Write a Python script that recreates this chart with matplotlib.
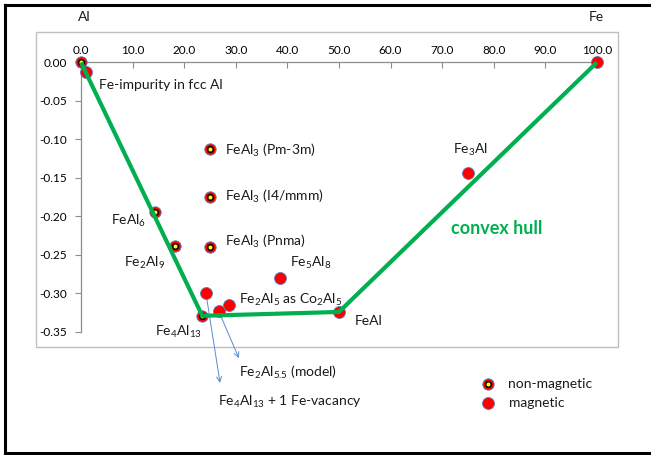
import matplotlib
matplotlib.use("Agg")
import matplotlib.pyplot as plt
from matplotlib.patches import Rectangle
from matplotlib.lines import Line2D

plt.rcParams['font.family'] = ['Lato', 'DejaVu Sans']
plt.rcParams['mathtext.fontset'] = 'custom'
plt.rcParams['mathtext.rm'] = 'Lato'
plt.rcParams['mathtext.it'] = 'Lato:italic'
plt.rcParams['mathtext.bf'] = 'Lato:bold'

# Formation energies (eV/atom) vs. Fe content (at.%)
nonmag_names = ["Al", "FeAl$_6$", "Fe$_2$Al$_9$", "FeAl$_3$ (Pm-3m)",
                "FeAl$_3$ (I4/mmm)", "FeAl$_3$ (Pnma)", "Fe$_4$Al$_{13}$"]
nonmag_x = [0.0, 14.3, 18.2, 25.0, 25.0, 25.0, 23.5]
nonmag_y = [0.0, -0.194, -0.238, -0.112, -0.175, -0.240, -0.329]

mag_names = ["Fe-impurity in fcc Al", "Fe$_4$Al$_{13}$ + 1 Fe-vacancy",
             "Fe$_2$Al$_{5.5}$ (model)", "Fe$_2$Al$_5$ as Co$_2$Al$_5$",
             "Fe$_5$Al$_8$", "FeAl", "Fe$_3$Al", "Fe"]
mag_x = [1.0, 24.2, 26.7, 28.6, 38.5, 50.0, 75.0, 100.0]
mag_y = [-0.012, -0.299, -0.323, -0.315, -0.280, -0.324, -0.143, 0.0]

hull_x = [0.0, 23.5, 50.0, 100.0]
hull_y = [0.0, -0.329, -0.324, 0.0]

x_ticks = [0, 10, 20, 30, 40, 50, 60, 70, 80, 90, 100]
y_ticks = [0.0, -0.05, -0.10, -0.15, -0.20, -0.25, -0.30, -0.35]

W, H = 651, 455
fig = plt.figure(figsize=(W / 100, H / 100), dpi=100)

def fx(px):
    return px / W

def fy(py):
    return 1 - py / H

ax = fig.add_axes([fx(36), fy(347), fx(618) - fx(36), fy(32) - fy(347)])
ax.set_xlim(-8.73, 104.1)
ax.set_ylim(-0.3695, 0.0396)

axis_grey = '#8C8C8C'
for s in ('bottom', 'right'):
    ax.spines[s].set_visible(False)
ax.spines['left'].set_position(('data', 0))
ax.spines['top'].set_position(('data', 0))
ax.spines['left'].set_bounds(-0.35, 0)
ax.spines['top'].set_bounds(0, 100)
for s in ('left', 'top'):
    ax.spines[s].set_color(axis_grey)
    ax.spines[s].set_linewidth(0.9)

ax.xaxis.tick_top()
ax.set_xticks(x_ticks)
ax.set_xticklabels([f"{v:.1f}" for v in x_ticks])
ax.set_yticks(y_ticks)
ax.set_yticklabels([f"{v:.2f}" for v in y_ticks])
ax.tick_params(axis='x', direction='in', length=4, color=axis_grey, labelsize=8.5, pad=5)
ax.tick_params(axis='y', direction='out', length=4, color=axis_grey, labelsize=8.5, pad=6)

# plot-area frame
ax.add_patch(Rectangle((0, 0), 1, 1, transform=ax.transAxes, fill=False,
                       ec='#BFBFBF', lw=1.0, clip_on=False))

edge = '#5B7FC0'

def nonmag_marker(x, y, transform=None, z=4):
    kw = dict(clip_on=False, linestyle='none')
    if transform is not None:
        kw['transform'] = transform
    ax.plot(x, y, 'o', ms=8.2, mfc='#FF0000', mec=edge, mew=0.6, zorder=z, **kw)
    ax.plot(x, y, 'o', ms=5.2, mfc='black', mec='black', mew=0, zorder=z + 0.1, **kw)
    ax.plot(x, y, 'o', ms=2.9, mfc='#FFFF00', mec='#FFFF00', mew=0, zorder=z + 0.2, **kw)

def mag_marker(x, y, transform=None, z=4):
    kw = dict(clip_on=False, linestyle='none')
    if transform is not None:
        kw['transform'] = transform
    ax.plot(x, y, 'o', ms=8.6, mfc='#FF0000', mec=edge, mew=0.6, zorder=z, **kw)

mag_marker(mag_x, mag_y)
nonmag_marker(nonmag_x, nonmag_y)

ax.plot(hull_x, hull_y, color='#00B050', lw=3.0, zorder=6, clip_on=False,
        solid_capstyle='butt')

fs = 10
# (dx, dy, ha) label offsets in pixels
nonmag_offsets = {
    "FeAl$_6$": (-9, -9, 'right'),
    "Fe$_2$Al$_9$": (-10, -17, 'right'),
    "FeAl$_3$ (Pm-3m)": (15, -2, 'left'),
    "FeAl$_3$ (I4/mmm)": (15, 1, 'left'),
    "FeAl$_3$ (Pnma)": (15, 6, 'left'),
    "Fe$_4$Al$_{13}$": (0, -16, 'right'),
}
for n, x, y in zip(nonmag_names, nonmag_x, nonmag_y):
    if n in nonmag_offsets:
        dx, dy, ha = nonmag_offsets[n]
        ax.annotate(n, (x, y), xytext=(dx, dy), textcoords='offset pixels',
                    ha=ha, va='center', fontsize=fs, color='#1a1a1a')

mag_offsets = {
    "Fe-impurity in fcc Al": (13, -13, 'left'),
    "Fe$_2$Al$_5$ as Co$_2$Al$_5$": (10, 5, 'left'),
    "Fe$_5$Al$_8$": (10, 15, 'left'),
    "FeAl": (16, -9, 'left'),
    "Fe$_3$Al": (3, 23, 'center'),
}
for n, x, y in zip(mag_names, mag_x, mag_y):
    if n in mag_offsets:
        dx, dy, ha = mag_offsets[n]
        ax.annotate(n, (x, y), xytext=(dx, dy), textcoords='offset pixels',
                    ha=ha, va='center', fontsize=fs, color='#1a1a1a')

# arrows pointing from the defect/model points to their captions
arrow_kw = dict(arrowstyle='->', color='#5B8BD0', lw=0.7, shrinkA=0, shrinkB=0,
                mutation_scale=9)
vac_i = mag_names.index("Fe$_4$Al$_{13}$ + 1 Fe-vacancy")
mod_i = mag_names.index("Fe$_2$Al$_{5.5}$ (model)")
ax.annotate('', xy=(26.95, -0.416), xytext=(mag_x[vac_i], mag_y[vac_i]),
            arrowprops=arrow_kw, annotation_clip=False)
ax.annotate('', xy=(30.6, -0.384), xytext=(mag_x[mod_i], mag_y[mod_i]),
            arrowprops=arrow_kw, annotation_clip=False)
fig.text(fx(239), fy(372), mag_names[mod_i], ha='left', va='center',
         fontsize=fs, color='#1a1a1a')
fig.text(fx(218), fy(402), mag_names[vac_i], ha='left', va='center',
         fontsize=fs, color='#1a1a1a')

fig.text(fx(451), fy(229), "convex hull", ha='left', va='center',
         fontsize=13, fontweight='bold', color='#00B050')

# element labels above the axis ends
fig.text(fx(84), fy(17), "Al", ha='center', va='center', fontsize=fs, color='#1a1a1a')
fig.text(fx(596), fy(17), "Fe", ha='center', va='center', fontsize=fs, color='#1a1a1a')

# legend
nonmag_marker([fx(488)], [fy(384)], transform=fig.transFigure, z=10)
mag_marker([fx(488)], [fy(403)], transform=fig.transFigure, z=10)
fig.text(fx(508), fy(384), "non-magnetic", ha='left', va='center', fontsize=fs, color='#1a1a1a')
fig.text(fx(509), fy(403), "magnetic", ha='left', va='center', fontsize=fs, color='#1a1a1a')

# outer chart border
for xs, ys in [((5, 651), (5, 5)), ((5, 5), (5, 453)), ((5, 651), (453, 453))]:
    fig.add_artist(Line2D([fx(v) for v in xs], [fy(v) for v in ys],
                          color='black', lw=2.2, transform=fig.transFigure))

fig.savefig("out.png", dpi=100)
